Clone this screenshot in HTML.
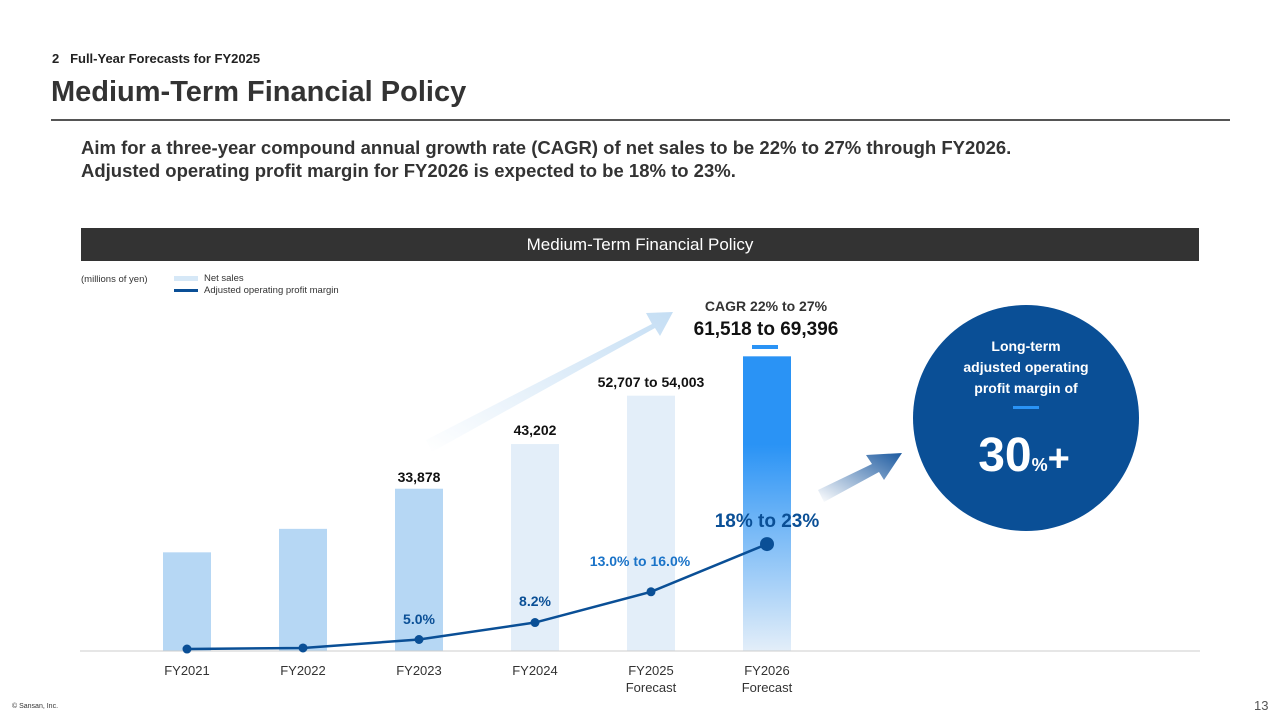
<!DOCTYPE html>
<html><head><meta charset="utf-8"><style>
body{margin:0;width:1280px;height:720px;background:#fff;font-family:"Liberation Sans",sans-serif;position:relative;overflow:hidden;color:#333}
.a{position:absolute;white-space:nowrap}
</style></head><body>
<div class="a" style="left:52px;top:51px;font-size:13px;font-weight:bold;color:#222">2&nbsp;&nbsp;&nbsp;Full-Year Forecasts for FY2025</div>
<div class="a" style="left:51px;top:76px;font-size:29px;font-weight:bold;color:#333">Medium-Term Financial Policy</div>
<div class="a" style="left:51px;top:119px;width:1179px;height:2px;background:#555"></div>
<div class="a" style="left:81px;top:136px;font-size:18.5px;font-weight:bold;color:#333;line-height:23px">Aim for a three-year compound annual growth rate (CAGR) of net sales to be 22% to 27% through FY2026.<br>Adjusted operating profit margin for FY2026 is expected to be 18% to 23%.</div>
<div class="a" style="left:81px;top:228px;width:1118px;height:33px;background:#333;color:#fff;font-size:17px;text-align:center;line-height:34px">Medium-Term Financial Policy</div>
<div class="a" style="left:81px;top:274px;font-size:9.5px">(millions of yen)</div>
<div class="a" style="left:174px;top:273px;font-size:9.5px"><span style="display:inline-block;width:24px;height:5px;background:#d6e8f7;vertical-align:middle;margin-right:6px"></span>Net sales</div>
<div class="a" style="left:174px;top:285px;font-size:9.5px"><span style="display:inline-block;width:24px;height:3px;background:#0a4f96;vertical-align:middle;margin-right:6px"></span>Adjusted operating profit margin</div>
<svg class="a" style="left:0;top:0" width="1280" height="720">
<defs>
<linearGradient id="g26" x1="0" y1="0" x2="0" y2="1"><stop offset="0.3" stop-color="#2a93f5"/><stop offset="1" stop-color="#e3eef9"/></linearGradient>
<linearGradient id="ga1" x1="0" y1="1" x2="1" y2="0"><stop offset="0" stop-color="#fff"/><stop offset="1" stop-color="#c5def4"/></linearGradient>
<linearGradient id="ga2" x1="0" y1="1" x2="1" y2="0"><stop offset="0" stop-color="#fff"/><stop offset="1" stop-color="#1c5aa0"/></linearGradient>
</defs>
<g id="bars"></g>
<line x1="80" y1="651" x2="1200" y2="651" stroke="#ccc"/>
<polygon points="426,440 652,324 646,313 673,312 660,336 655,328 432,452" fill="url(#ga1)"/>
<polygon points="818,490 872,464 866,455 902,453 884,480 879,472 824,502" fill="url(#ga2)"/>
<g id="line"></g>
<rect x="752" y="345" width="26" height="4" fill="#2a93f5"/>
<text x="766" y="311" text-anchor="middle" font-size="14" font-weight="bold" fill="#333">CAGR 22% to 27%</text>
<text x="766" y="335" text-anchor="middle" font-size="19" font-weight="bold" fill="#111">61,518 to 69,396</text>
<text x="651" y="387" text-anchor="middle" font-size="14" font-weight="bold" fill="#111">52,707 to 54,003</text>
<text x="535" y="435" text-anchor="middle" font-size="14" font-weight="bold" fill="#111">43,202</text>
<text x="419" y="482" text-anchor="middle" font-size="14" font-weight="bold" fill="#111">33,878</text>
<text x="419" y="624" text-anchor="middle" font-size="14" font-weight="bold" fill="#0a4f96">5.0%</text>
<text x="535" y="606" text-anchor="middle" font-size="14" font-weight="bold" fill="#0a4f96">8.2%</text>
<text x="640" y="566" text-anchor="middle" font-size="14" font-weight="bold" fill="#1a73c8">13.0% to 16.0%</text>
<text x="767" y="527" text-anchor="middle" font-size="19" font-weight="bold" fill="#0a4f96">18% to 23%</text>
<g id="xt" font-size="13" fill="#333" text-anchor="middle"></g>
<circle cx="1026" cy="418" r="113" fill="#0a4f96"/>
<text x="1026" y="351" text-anchor="middle" font-size="14" font-weight="bold" fill="#fff">Long-term</text>
<text x="1026" y="372" text-anchor="middle" font-size="14" font-weight="bold" fill="#fff">adjusted operating</text>
<text x="1026" y="393" text-anchor="middle" font-size="14" font-weight="bold" fill="#fff">profit margin of</text>
<rect x="1013" y="406" width="26" height="3" fill="#2a93f5"/>
<text x="1024" y="471" text-anchor="middle" fill="#fff" font-weight="bold"><tspan font-size="48">30</tspan><tspan font-size="18">%</tspan><tspan font-size="38">+</tspan></text>
</svg>
<div class="a" style="left:12px;top:703px;font-size:7px;color:#333">© Sansan, Inc.</div>
<div class="a" style="left:1254px;top:698px;font-size:13px;color:#555">13</div>
<script>
const categories=["FY2021","FY2022","FY2023","FY2024","FY2025","FY2026"];
const subLabels=["","","","","Forecast","Forecast"];
const netSales=[20600,25500,33878,43202,53300,61518];
const margins=[3.2,3.4,5.0,8.2,14.0,23.0];
const colors=["#b6d7f4","#b6d7f4","#b6d7f4","#e3eef9","#e3eef9","url(#g26)"];
const NS="http://www.w3.org/2000/svg";
const x0=187,dx=116,base=651,k=0.00479;
const xs=i=>x0+i*dx, ys=v=>base-v*k, ym=v=>666-v*5.3;
const bars=document.getElementById('bars');
netSales.forEach((v,i)=>{const r=document.createElementNS(NS,'rect');
r.setAttribute('x',xs(i)-24);r.setAttribute('y',ys(v));r.setAttribute('width',48);r.setAttribute('height',base-ys(v));r.setAttribute('fill',colors[i]);


bars.appendChild(r);});
const lg=document.getElementById('line');
const p=document.createElementNS(NS,'polyline');
p.setAttribute('points',margins.map((v,i)=>xs(i)+','+ym(v)).join(' '));
p.setAttribute('fill','none');p.setAttribute('stroke','#0a4f96');p.setAttribute('stroke-width','2.5');


lg.appendChild(p);
margins.forEach((v,i)=>{const c=document.createElementNS(NS,'circle');
c.setAttribute('cx',xs(i));c.setAttribute('cy',ym(v));c.setAttribute('r',i==5?7:4.5);c.setAttribute('fill','#0a4f96');


lg.appendChild(c);});
const xt=document.getElementById('xt');
categories.forEach((c,i)=>{const t=document.createElementNS(NS,'text');
t.setAttribute('x',xs(i));t.setAttribute('y',675);t.textContent=c;


xt.appendChild(t);
if(subLabels[i]){const s=document.createElementNS(NS,'text');s.setAttribute('x',xs(i));s.setAttribute('y',692);s.textContent=subLabels[i];


xt.appendChild(s);}});
</script>
</body></html>
